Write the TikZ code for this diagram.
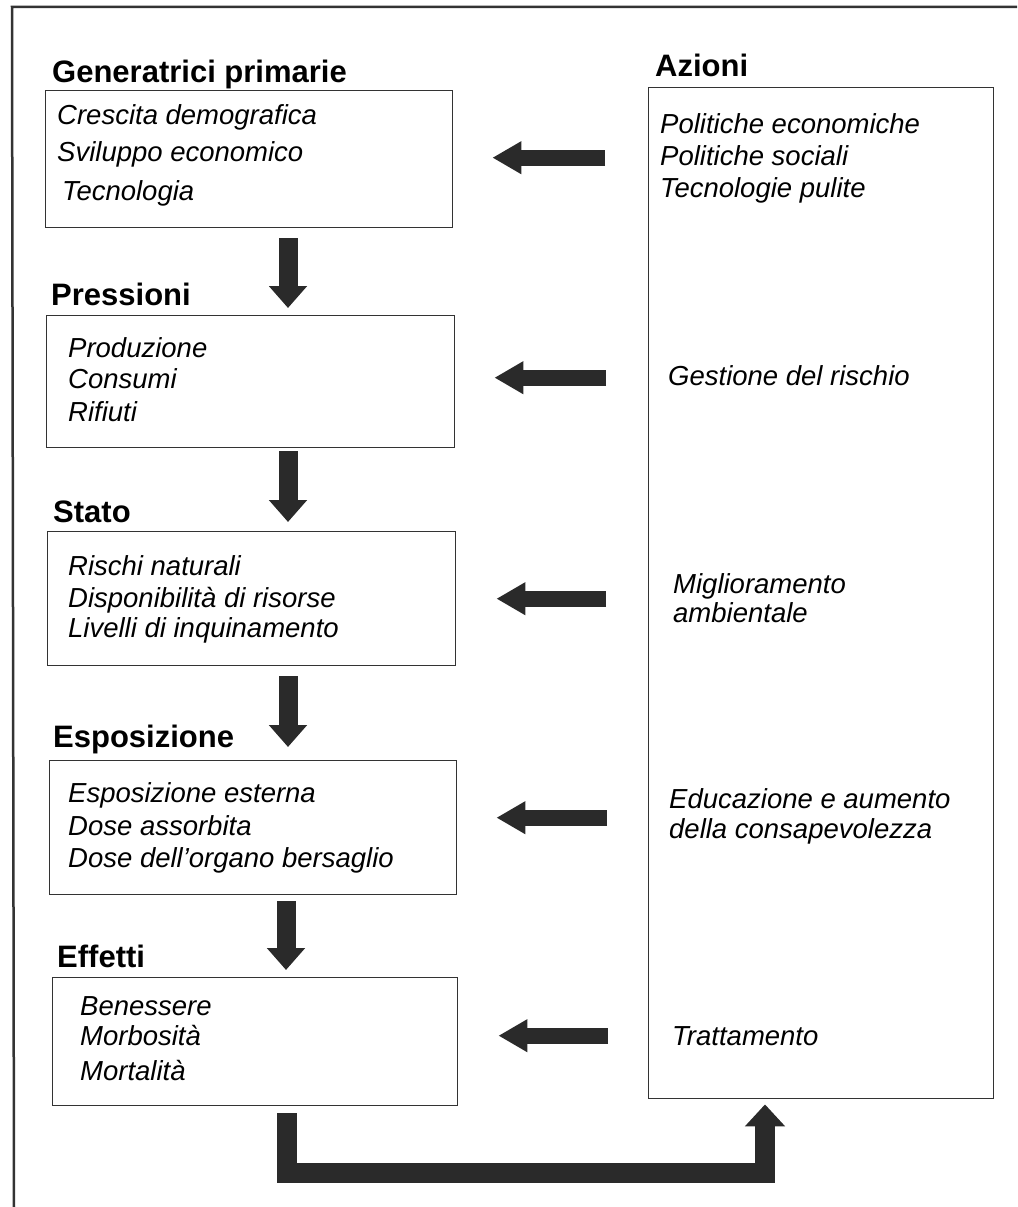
\documentclass[tikz,border=0pt]{standalone}
\usepackage{fontspec}
\setmainfont{Liberation Sans}
\usetikzlibrary{arrows.meta,calc}
\definecolor{arrgray}{HTML}{2A2A2A}
\definecolor{linegray}{HTML}{333333}
\begin{document}
\begin{tikzpicture}[x=1pt,y=-1pt,
  box/.style={draw=linegray, line width=1.4pt, inner sep=0pt, anchor=north west},
  ttl/.style={anchor=base west, inner sep=0pt, font=\fontsize{31}{31}\selectfont\bfseries},
  itm/.style={anchor=base west, inner sep=0pt, font=\fontsize{27.5}{30}\selectfont\itshape},
  darr/.style={draw=arrgray, line width=19pt, line cap=butt, -{Triangle[width=37pt,length=22pt]}},
  larr/.style={draw=arrgray, line width=16pt, line cap=butt, -{Triangle[width=31pt,length=29pt]}},
  barr/.style={draw=arrgray, line width=20pt, line cap=butt, line join=miter, -{Triangle[width=39pt,length=22pt]}},
]
\useasboundingbox (0,0) rectangle (1017,1207);

% outer frame (top and left edges only)
\draw[draw=linegray, line width=2.5pt] (1017,7) -- (12,7) -- (14,1207);

% column coordinates
\coordinate (ax) at (288,0);
\coordinate (fx) at (765,0);

% boxes
\node[box, minimum width=407pt, minimum height=137pt] (b1) at (45,90) {};
\node[box, minimum width=408pt, minimum height=132pt] (b2) at (46,315) {};
\node[box, minimum width=408pt, minimum height=134pt] (b3) at (47,531) {};
\node[box, minimum width=407pt, minimum height=134pt] (b4) at (49,760) {};
\node[box, minimum width=405pt, minimum height=128pt] (b5) at (52,977) {};
\node[box, minimum width=345pt, minimum height=1011pt] (az) at (648,87) {};

% titles
\node[ttl] (t1) at (52,82) {Generatrici primarie};
\node[ttl] (t2) at (51,305) {Pressioni};
\node[ttl] (t3) at (53,522) {Stato};
\node[ttl] (t4) at (53,747) {Esposizione};
\node[ttl] (t5) at (57,967) {Effetti};
\node[ttl] (taz) at (655,77) {Azioni};

% items, box 1
\node[itm] (i11) at (57,124) {Crescita demografica};
\node[itm] (i12) at (57,161) {Sviluppo economico};
\node[itm] (i13) at (62,200) {Tecnologia};
% box 2
\node[itm] (i21) at (68,357) {Produzione};
\node[itm] (i22) at (68,388) {Consumi};
\node[itm] (i23) at (68,421) {Rifiuti};
% box 3
\node[itm] (i31) at (68,575) {Rischi naturali};
\node[itm] (i32) at (68,607) {Disponibilità di risorse};
\node[itm] (i33) at (68,637) {Livelli di inquinamento};
% box 4
\node[itm] (i41) at (68,802) {Esposizione esterna};
\node[itm] (i42) at (68,835) {Dose assorbita};
\node[itm] (i43) at (68,867) {Dose dell'organo bersaglio};
% box 5
\node[itm] (i51) at (80,1015) {Benessere};
\node[itm] (i52) at (80,1045) {Morbosità};
\node[itm] (i53) at (80,1080) {Mortalità};
% actions
\node[itm] (a11) at (660,133) {Politiche economiche};
\node[itm] (a12) at (660,165) {Politiche sociali};
\node[itm] (a13) at (660,197) {Tecnologie pulite};
\node[itm] (a2) at (668,385) {Gestione del rischio};
\node[itm] (a31) at (673,593) {Miglioramento};
\node[itm] (a32) at (673,622) {ambientale};
\node[itm] (a41) at (669,808) {Educazione e aumento};
\node[itm] (a42) at (669,838) {della consapevolezza};
\node[itm] (a5) at (672,1045) {Trattamento};

% down arrows
\draw[darr] ($(b1.south -| ax)+(0,10)$) -- ($(b2.north -| ax)+(0,-7)$);
\draw[darr] ($(b2.south -| ax)+(0,3)$) -- ($(b3.north -| ax)+(0,-9)$);
\draw[darr] ($(b3.south -| ax)+(0,10)$) -- ($(b4.north -| ax)+(0,-13)$);
\draw[darr] ($(b4.south -| ax)+(-2,6)$) -- ($(b5.north -| ax)+(-2,-7)$);

% left arrows from actions to boxes
\draw[larr] ($(az.west |- b1.east)+(-43,-1.5)$) -- ($(b1.east)+(39,-1.5)$);
\draw[larr] ($(az.west |- b2.east)+(-42,-4)$) -- ($(b2.east)+(39,-4)$);
\draw[larr] ($(az.west |- b3.east)+(-42,0)$) -- ($(b3.east)+(40,0)$);
\draw[larr] ($(az.west |- b4.east)+(-41,-10)$) -- ($(b4.east)+(39,-10)$);
\draw[larr] ($(az.west |- b5.east)+(-40,-6)$) -- ($(b5.east)+(40,-6)$);

% feedback connector from Effetti to Azioni
\draw[barr] ($(b5.south -| ax)+(-1,7)$) -- ++(0,60) -| ($(az.south -| fx)+(0,5)$);
\end{tikzpicture}
\end{document}
